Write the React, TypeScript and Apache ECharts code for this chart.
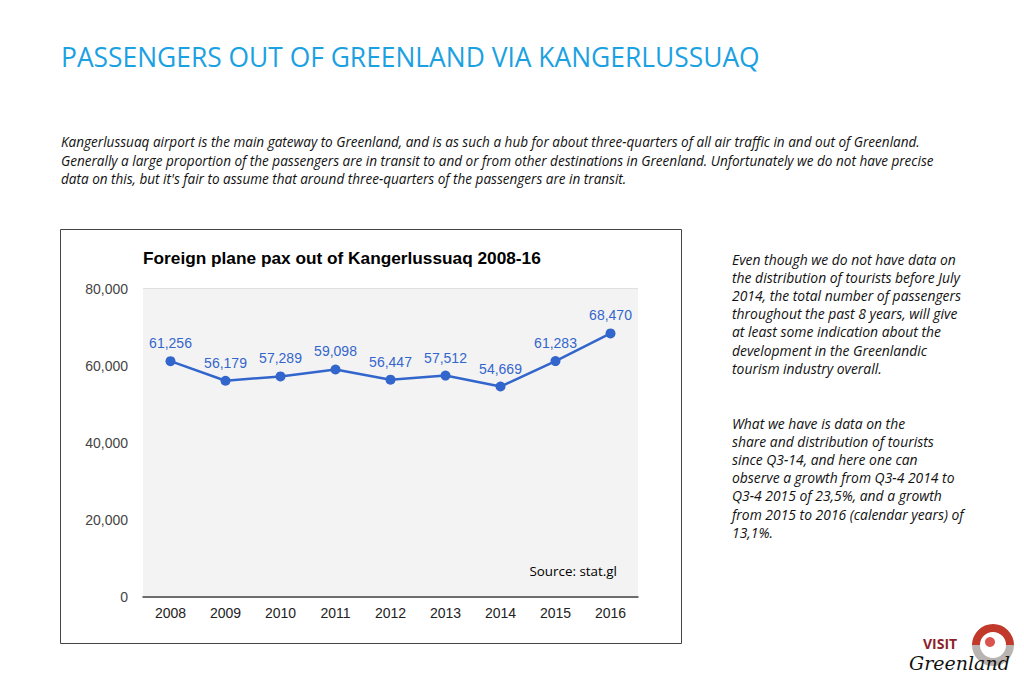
import React, { useEffect, useRef } from "react";
import * as echarts from "echarts";

const years = ["2008", "2009", "2010", "2011", "2012", "2013", "2014", "2015", "2016"];
const passengers = [61256, 56179, 57289, 59098, 56447, 57512, 54669, 61283, 68470];
const yTicks = { min: 0, max: 80000, interval: 20000 };

const pageTitle = "PASSENGERS OUT OF GREENLAND VIA KANGERLUSSUAQ";
const introText = [
  "Kangerlussuaq airport is the main gateway to Greenland, and is as such a hub for about three-quarters of all air traffic in and out of Greenland.",
  "Generally a large proportion of the passengers are in transit to and or from other destinations in Greenland. Unfortunately we do not have precise",
  "data on this, but it's fair to assume that around three-quarters of the passengers are in transit.",
];
const sideText1 = [
  "Even though we do not have data on",
  "the distribution of tourists before July",
  "2014, the total number of passengers",
  "throughout the past 8 years, will give",
  "at least some indication about the",
  "development in the Greenlandic",
  "tourism industry overall.",
];
const sideText2 = [
  "What we have is data on the",
  "share and distribution of tourists",
  "since Q3-14, and here one can",
  "observe a growth from Q3-4 2014 to",
  "Q3-4 2015 of 23,5%, and a growth",
  "from 2015 to 2016 (calendar years) of",
  "13,1%.",
];
const chartTitle = "Foreign plane pax out of Kangerlussuaq 2008-16";
const sourceText = "Source: stat.gl";

const fmt = (v: number) => v.toLocaleString("en-US");

export default function App() {
  const ref = useRef<HTMLDivElement>(null);
  useEffect(() => {
    if (!ref.current) return;
    const chart = echarts.init(ref.current, undefined, { renderer: "svg" });
    const bodyFont = "'Open Sans', sans-serif";
    chart.setOption({
      animation: false,
      backgroundColor: "#ffffff",
      grid: {
        left: 143,
        top: 289,
        width: 495,
        height: 308,
        show: true,
        backgroundColor: "#f3f3f3",
        borderWidth: 0,
        z: 1,
      },
      xAxis: {
        type: "category",
        data: years,
        boundaryGap: true,
        axisLine: { show: true, lineStyle: { color: "#444", width: 1.5 } },
        axisTick: { show: false },
        axisLabel: { color: "#222", fontSize: 14, fontFamily: "Arial, 'Liberation Sans'", margin: 9 },
        z: 3,
      },
      yAxis: {
        type: "value",
        min: yTicks.min,
        max: yTicks.max,
        interval: yTicks.interval,
        axisLine: { show: false },
        axisTick: { show: false },
        axisLabel: {
          color: "#444",
          fontSize: 14,
          fontFamily: "Arial, 'Liberation Sans'",
          margin: 15,
          formatter: (v: number) => fmt(v),
        },
        splitLine: { show: true, lineStyle: { color: "#d6d6d6", width: 1.5 } },
      },
      series: [
        {
          type: "line",
          data: passengers,
          symbol: "circle",
          symbolSize: 10,
          lineStyle: { color: "#3366cc", width: 2.5 },
          itemStyle: { color: "#3366cc" },
          label: {
            show: true,
            position: "top",
            distance: 6,
            color: "#3366cc",
            fontSize: 14,
            fontFamily: "Arial, 'Liberation Sans'",
            formatter: (p: any) => fmt(p.value),
          },
          z: 5,
        },
      ],
      graphic: [
        {
          type: "rect",
          shape: { x: 60.5, y: 229.5, width: 621, height: 414 },
          style: { fill: "#ffffff", stroke: "#444", lineWidth: 1 },
          z: -10,
          silent: true,
        },
        {
          type: "text",
          x: 61,
          y: 57,
          style: {
            text: pageTitle,
            fill: "#1ba1e2",
            fontSize: 26.4,
            fontFamily: bodyFont,
            textVerticalAlign: "middle",
          },
        },
        {
          type: "text",
          x: 61,
          y: 133,
          style: {
            text: introText.join("\n"),
            fill: "#111",
            fontSize: 13.55,
            fontStyle: "italic",
            fontFamily: bodyFont,
            lineHeight: 18.5,
            textVerticalAlign: "top",
          },
        },
        {
          type: "text",
          x: 143,
          y: 258,
          style: {
            text: chartTitle,
            fill: "#000",
            fontSize: 17.25,
            fontWeight: "bold",
            fontFamily: "Arial, 'Liberation Sans'",
            textVerticalAlign: "middle",
          },
        },
        {
          type: "text",
          x: 617,
          y: 571,
          z: 10,
          style: {
            text: sourceText,
            fill: "#000",
            fontSize: 13.4,
            fontFamily: bodyFont,
            textAlign: "right",
            textVerticalAlign: "middle",
          },
        },
        {
          type: "text",
          x: 732,
          y: 250,
          style: {
            text: sideText1.join("\n"),
            fill: "#111",
            fontSize: 13.9,
            fontStyle: "italic",
            fontFamily: bodyFont,
            lineHeight: 18.2,
            textVerticalAlign: "top",
          },
        },
        {
          type: "text",
          x: 732,
          y: 414,
          style: {
            text: sideText2.join("\n"),
            fill: "#111",
            fontSize: 13.9,
            fontStyle: "italic",
            fontFamily: bodyFont,
            lineHeight: 18.2,
            textVerticalAlign: "top",
          },
        },
        // logo
        {
          type: "sector",
          shape: { cx: 993, cy: 645, r: 21, r0: 13, startAngle: Math.PI, endAngle: 2 * Math.PI },
          style: { fill: "#c0392b" },
        },
        {
          type: "sector",
          shape: { cx: 993, cy: 645, r: 21, r0: 13, startAngle: 0, endAngle: Math.PI },
          style: { fill: "#b9b4b2" },
        },
        {
          type: "circle",
          shape: { cx: 993, cy: 645, r: 12.5 },
          style: { fill: "#ffffff" },
        },
        {
          type: "circle",
          shape: { cx: 990, cy: 642, r: 5 },
          style: { fill: "#d9534f" },
        },
        {
          type: "text",
          x: 923,
          y: 643,
          style: {
            text: "VISIT",
            fill: "#8e1f2f",
            fontSize: 14,
            fontWeight: "bold",
            fontFamily: "'Open Sans', sans-serif",
            textVerticalAlign: "middle",
          },
        },
        {
          type: "text",
          x: 909,
          y: 663,
          style: {
            text: "Greenland",
            fill: "#111",
            fontSize: 19,
            fontStyle: "italic",
            fontFamily: "'DejaVu Serif', serif",
            textVerticalAlign: "middle",
          },
        },
      ],
    });
    return () => chart.dispose();
  }, []);
  return (
    <div
      ref={ref}
      style={{ position: "fixed", left: 0, top: 0, width: 1024, height: 683 }}
    />
  );
}
